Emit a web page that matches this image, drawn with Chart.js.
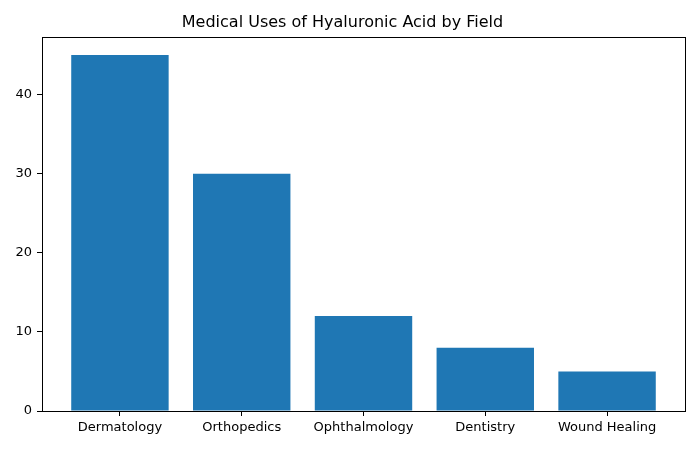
<!DOCTYPE html>
<html>
<head>
<meta charset="utf-8">
<script src="https://cdn.jsdelivr.net/npm/chart.js@4.4.1/dist/chart.umd.min.js"></script>
<style>
  html, body { margin: 0; padding: 0; background: #fff; }
  #wrap { width: 700px; height: 450px; }
</style>
</head>
<body>
<div id="wrap"><canvas id="myChart" width="700" height="450"></canvas></div>
<script>
const fields = ['Dermatology', 'Orthopedics', 'Ophthalmology', 'Dentistry', 'Wound Healing']
const uses = [45, 30, 12, 8, 5]
const yTicks = [0, 10, 20, 30, 40]

Chart.defaults.font.family = 'DejaVu Sans'
Chart.defaults.color = '#000'

// box around the plot area like matplotlib spines
const frame = {
    id: 'frame',
    afterDraw(chart) {
        const a = chart.chartArea
        const c = chart.ctx
        c.save()
        c.strokeStyle = '#000'
        c.lineWidth = 1
        c.strokeRect(Math.round(a.left) + 0.5, Math.round(a.top) + 0.5,
            Math.round(a.right - a.left), Math.round(a.bottom - a.top))
        c.restore()
    }
}

const ctx = document.getElementById('myChart')

const chart = new Chart(ctx, {
    type: 'bar',
    data: {
        datasets: [{
            data: uses.map((v, i) => ({ x: i, y: v })),
            backgroundColor: '#1f77b4',
            borderWidth: 0,
            inflateAmount: 0,
            barPercentage: 0.8,
            categoryPercentage: 1
        }]
    },
    options: {
        responsive: false,
        animation: false,
        layout: { padding: { left: 0, right: 15, top: 0, bottom: 0 } },
        plugins: {
            legend: { display: false },
            tooltip: { enabled: false },
            title: {
                display: true,
                text: 'Medical Uses of Hyaluronic Acid by Field',
                font: { size: 16, weight: 'normal' },
                color: '#000',
                padding: { top: 13, bottom: 5 }
            }
        },
        scales: {
            x: {
                type: 'linear',
                offset: false,
                min: -0.64,
                max: 4.64,
                afterBuildTicks: s => { s.ticks = fields.map((f, i) => ({ value: i })) },
                afterFit: s => { s.height = 39 },
                ticks: {
                    font: { size: 13 },
                    padding: 4,
                    maxRotation: 0,
                    autoSkip: false,
                    callback: v => fields[v]
                },
                grid: { offset: false, drawOnChartArea: false, tickLength: 5, tickColor: '#000' },
                border: { color: '#000' }
            },
            y: {
                min: 0,
                max: 47.25,
                afterBuildTicks: s => { s.ticks = yTicks.map(v => ({ value: v })) },
                afterFit: s => { s.width = 42 },
                ticks: { font: { size: 13 }, padding: 5 },
                grid: { drawOnChartArea: false, tickLength: 5, tickColor: '#000' },
                border: { color: '#000' }
            }
        }
    },
    plugins: [frame]
})
</script>
</body>
</html>
